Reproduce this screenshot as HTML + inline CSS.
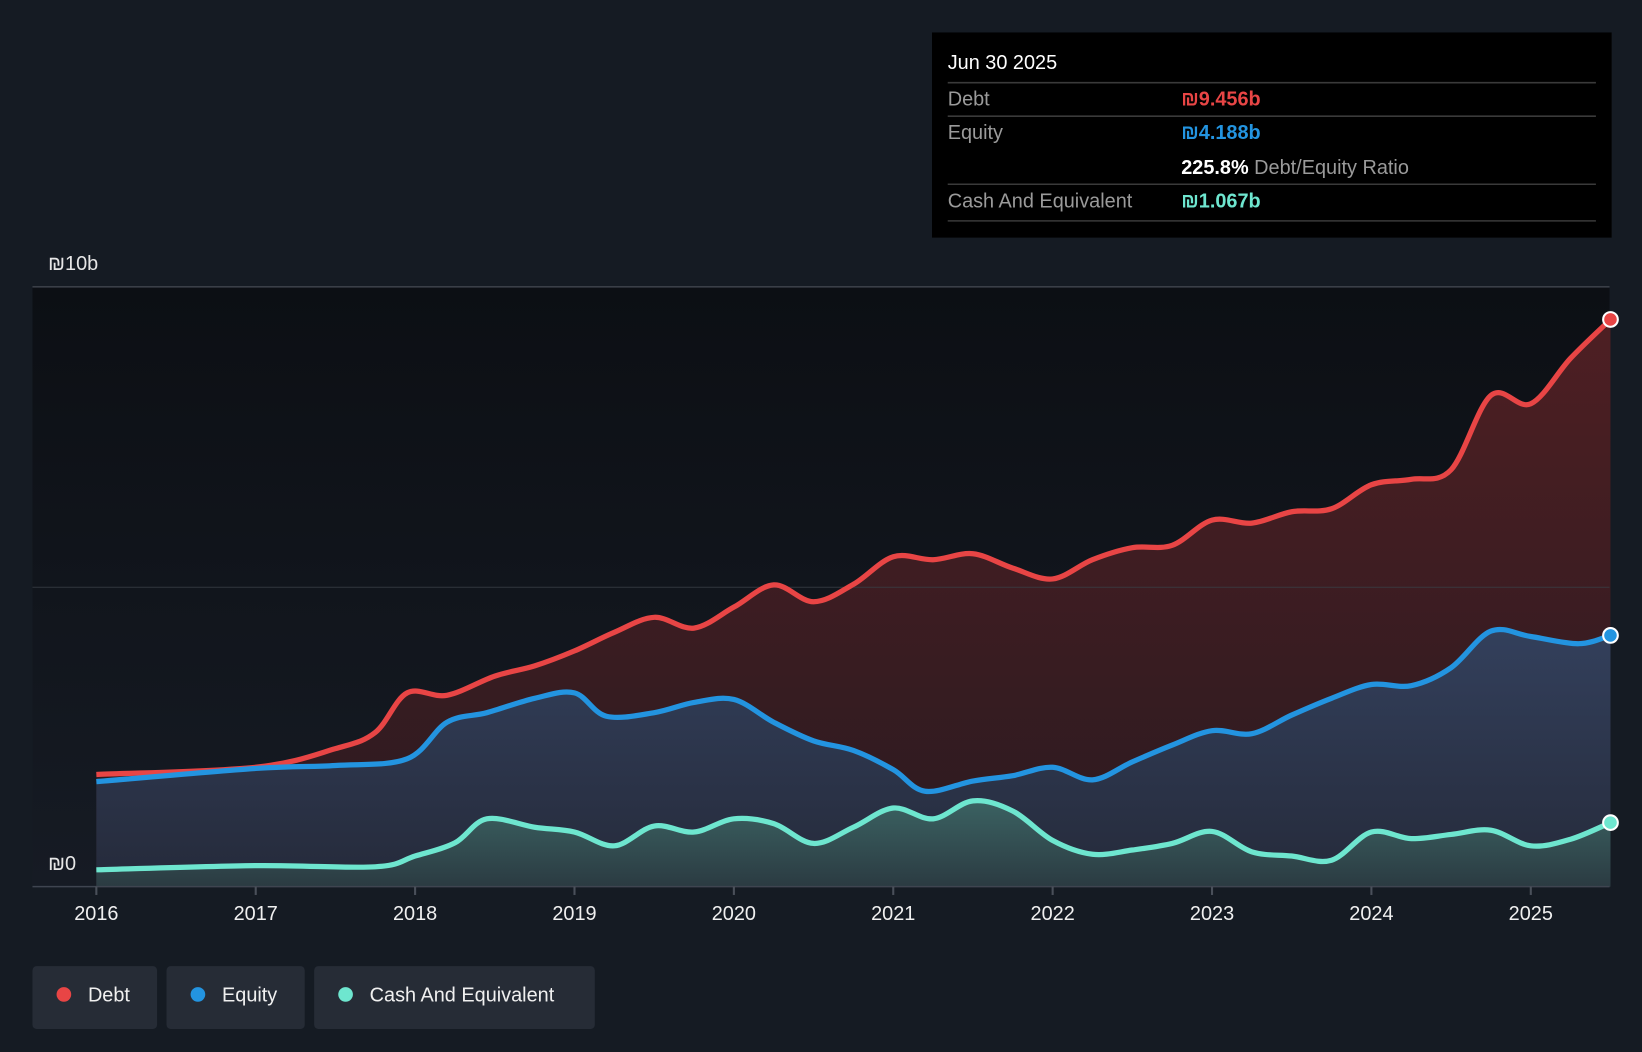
<!DOCTYPE html>
<html><head><meta charset="utf-8"><style>
html,body{margin:0;padding:0;background:#151b23;}
svg{display:block;font-family:"Liberation Sans",sans-serif;}
</style></head><body>
<svg id="chart" width="1642" height="1052" viewBox="0 0 1568 1005" preserveAspectRatio="none">
<defs>
<linearGradient id="gPlot" x1="0" y1="0" x2="0" y2="1"><stop offset="0" stop-color="#0c0f14"/><stop offset="1" stop-color="#161b24"/></linearGradient>
<linearGradient id="gDebt" x1="0" y1="0" x2="0" y2="1"><stop offset="0" stop-color="#4e1f23"/><stop offset="1" stop-color="#2a1a20"/></linearGradient>
<linearGradient id="gEq" x1="0" y1="0" x2="0" y2="1"><stop offset="0" stop-color="#33405c"/><stop offset="1" stop-color="#252a3a"/></linearGradient>
<linearGradient id="gCash" x1="0" y1="0" x2="0" y2="1"><stop offset="0" stop-color="#3b6262"/><stop offset="1" stop-color="#2b3b42"/></linearGradient>
</defs>
<rect x="0" y="0" width="1568" height="1005" fill="#151b23"/>
<rect x="31" y="274" width="1506" height="573" fill="url(#gPlot)"/>
<g id="areas"></g>
<line x1="31" y1="274" x2="1537" y2="274" stroke="#3a3f47" stroke-width="1.5"/>
<line x1="31" y1="561" x2="1537" y2="561" stroke="#3a3f47" stroke-width="1" opacity="0.8"/>
<g id="lines"></g>
<line x1="31" y1="847" x2="1537" y2="847" stroke="#3f4550" stroke-width="1.5"/>
<g id="xticks"></g>
<text x="46" y="258" fill="#e6e6e6" font-size="19">₪10b</text>
<text x="46" y="831" fill="#e6e6e6" font-size="19">₪0</text>

<g>
<rect x="890" y="31" width="649" height="196" fill="#000"/>
<text x="905" y="66" fill="#fff" font-size="19">Jun 30 2025</text>
<line x1="905" y1="79" x2="1524" y2="79" stroke="#3a3a3a" stroke-width="1.5"/>
<text x="905" y="101" fill="#9a9a9a" font-size="19">Debt</text>
<text x="1128" y="101" fill="#e84545" font-size="19" font-weight="bold">₪9.456b</text>
<line x1="905" y1="111" x2="1524" y2="111" stroke="#3a3a3a" stroke-width="1.5"/>
<text x="905" y="133" fill="#9a9a9a" font-size="19">Equity</text>
<text x="1128" y="133" fill="#2394e0" font-size="19" font-weight="bold">₪4.188b</text>
<text x="1128" y="166" fill="#fff" font-size="19" font-weight="bold">225.8% <tspan fill="#9a9a9a" font-weight="normal">Debt/Equity Ratio</tspan></text>
<line x1="905" y1="176" x2="1524" y2="176" stroke="#3a3a3a" stroke-width="1.5"/>
<text x="905" y="198" fill="#9a9a9a" font-size="19">Cash And Equivalent</text>
<text x="1128" y="198" fill="#6ee6cf" font-size="19" font-weight="bold">₪1.067b</text>
<line x1="905" y1="211" x2="1524" y2="211" stroke="#3a3a3a" stroke-width="1.5"/>
</g>

<g>
<g><rect x="31" y="923" width="119" height="60" rx="4" fill="#262c36"/><circle cx="61" cy="950" r="7" fill="#e84545"/><text x="84" y="957" fill="#f0f0f0" font-size="19">Debt</text></g>
<g><rect x="159" y="923" width="132" height="60" rx="4" fill="#262c36"/><circle cx="189" cy="950" r="7" fill="#2394e0"/><text x="212" y="957" fill="#f0f0f0" font-size="19">Equity</text></g>
<g><rect x="300" y="923" width="268" height="60" rx="4" fill="#262c36"/><circle cx="330" cy="950" r="7" fill="#6ee6cf"/><text x="353" y="957" fill="#f0f0f0" font-size="19">Cash And Equivalent</text></g>
</g>
</svg>
<script>
const years = [2016,2017,2018,2019,2020,2021,2022,2023,2024,2025];
const debtT = [2016,2017,2017.5,2017.75,2017.95,2018.2,2018.5,2018.75,2019,2019.25,2019.5,2019.75,2020,2020.25,2020.5,2020.75,2021,2021.25,2021.5,2021.75,2022,2022.25,2022.5,2022.75,2023,2023.25,2023.5,2023.75,2024,2024.25,2024.5,2024.75,2025,2025.25,2025.5];
const debtV = [1.87,1.99,2.30,2.57,3.23,3.19,3.51,3.68,3.93,4.24,4.49,4.31,4.66,5.03,4.75,5.04,5.50,5.45,5.55,5.31,5.13,5.45,5.65,5.69,6.11,6.06,6.25,6.30,6.70,6.79,6.95,8.19,8.05,8.81,9.456];
const eqT = [2016,2017,2017.5,2017.95,2018.2,2018.45,2018.75,2019,2019.2,2019.5,2019.75,2020,2020.25,2020.5,2020.75,2021,2021.2,2021.5,2021.75,2022,2022.25,2022.5,2022.75,2023,2023.25,2023.5,2023.75,2024,2024.25,2024.5,2024.75,2025,2025.3,2025.5];
const eqV = [1.75,1.97,2.02,2.13,2.74,2.90,3.14,3.23,2.84,2.90,3.07,3.12,2.74,2.43,2.27,1.95,1.59,1.76,1.85,1.99,1.78,2.08,2.36,2.60,2.55,2.86,3.14,3.37,3.35,3.65,4.26,4.17,4.05,4.188];
const cashT = [2016,2017,2017.75,2018,2018.25,2018.45,2018.75,2019,2019.25,2019.5,2019.75,2020,2020.25,2020.5,2020.75,2021,2021.25,2021.5,2021.75,2022,2022.25,2022.5,2022.75,2023,2023.25,2023.5,2023.75,2024,2024.25,2024.5,2024.75,2025,2025.25,2025.5];
const cashV = [0.28,0.35,0.33,0.51,0.73,1.13,0.99,0.91,0.68,1.01,0.91,1.13,1.05,0.72,0.99,1.31,1.13,1.43,1.26,0.77,0.54,0.61,0.72,0.92,0.58,0.51,0.44,0.91,0.80,0.87,0.94,0.68,0.79,1.067];

const X = t => 92 + (t - 2016) * 152.2;
const Y = v => 847 - v * 57.3;
const NS = 'http://www.w3.org/2000/svg';

function smooth(T, V) {
  const p = T.map((t, i) => [X(t), Y(V[i])]);
  let d = 'M' + p[0][0] + ',' + p[0][1];
  for (let i = 0; i < p.length - 1; i++) {
    const p0 = p[Math.max(0, i - 1)], p1 = p[i], p2 = p[i + 1], p3 = p[Math.min(p.length - 1, i + 2)];
    const k = 6;
    const c1x = p1[0] + (p2[0] - p0[0]) / k, c1y = p1[1] + (p2[1] - p0[1]) / k;
    const c2x = p2[0] - (p3[0] - p1[0]) / k, c2y = p2[1] - (p3[1] - p1[1]) / k;
    d += ' C' + c1x + ',' + c1y + ' ' + c2x + ',' + c2y + ' ' + p2[0] + ',' + p2[1];
  }
  return d;
}
const areas = document.getElementById('areas');
const lines = document.getElementById('lines');
const series = [
  ['debt', debtT, debtV, '#e84545', 'url(#gDebt)'],
  ['equity', eqT, eqV, '#2394e0', 'url(#gEq)'],
  ['cash', cashT, cashV, '#6ee6cf', 'url(#gCash)']
];
series.forEach(([name, T, V, col, fill]) => {
  const d = smooth(T, V);
  const a = document.createElementNS(NS, 'path');
  a.setAttribute('d', d + ' L' + X(T[T.length - 1]) + ',847 L' + X(T[0]) + ',847 Z');
  a.setAttribute('fill', fill);
  
  
  areas.appendChild(a);
  const l = document.createElementNS(NS, 'path');
  l.setAttribute('d', d);
  l.setAttribute('fill', 'none');
  l.setAttribute('stroke', col);
  l.setAttribute('stroke-width', '5');
  l.setAttribute('stroke-linejoin', 'round');
  
  
  lines.appendChild(l);
  const c = document.createElementNS(NS, 'circle');
  c.setAttribute('cx', X(T[T.length - 1]));
  c.setAttribute('cy', Y(V[V.length - 1]));
  c.setAttribute('r', '7');
  c.setAttribute('fill', col);
  c.setAttribute('stroke', '#fff');
  c.setAttribute('stroke-width', '2');
  
  
  lines.appendChild(c);
});
const xt = document.getElementById('xticks');
years.forEach(y => {
  const ln = document.createElementNS(NS, 'line');
  ln.setAttribute('x1', X(y)); ln.setAttribute('x2', X(y));
  ln.setAttribute('y1', 847); ln.setAttribute('y2', 855);
  ln.setAttribute('stroke', '#4a505a'); ln.setAttribute('stroke-width', '2');
  
  
  xt.appendChild(ln);
  const tx = document.createElementNS(NS, 'text');
  tx.setAttribute('x', X(y)); tx.setAttribute('y', 879);
  tx.setAttribute('text-anchor', 'middle');
  tx.setAttribute('fill', '#f0f0f0'); tx.setAttribute('font-size', '19');
  
  
  tx.textContent = y;
  xt.appendChild(tx);
});
</script>
</body></html>
